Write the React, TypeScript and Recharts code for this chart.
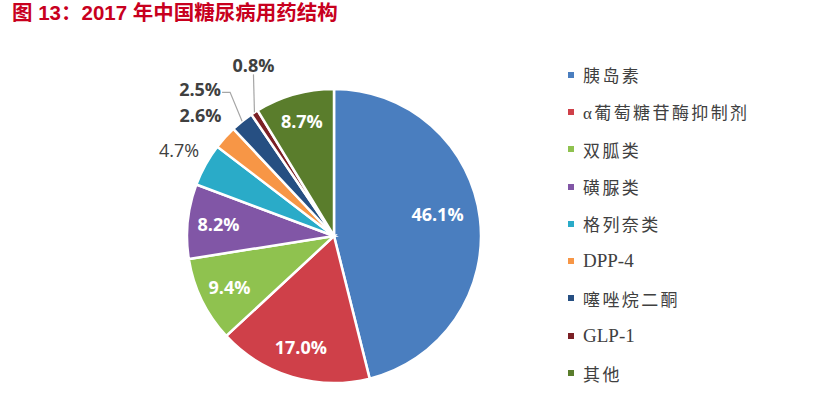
import React from "react";
import { PieChart, Pie, Legend } from "recharts";

// 2017 diabetes drug market structure
const NAMES = [
  "胰岛素",
  "α葡萄糖苷酶抑制剂",
  "双胍类",
  "磺脲类",
  "格列奈类",
  "DPP-4",
  "噻唑烷二酮",
  "GLP-1",
  "其他",
];
const VALUES = [46.1, 17.0, 9.4, 8.2, 4.7, 2.6, 2.5, 0.8, 8.7];
const COLORS = [
  "#4A7EBF",
  "#CF4049",
  "#8FC24F",
  "#8156A6",
  "#2AABC8",
  "#F79646",
  "#264F82",
  "#7B2025",
  "#5A7D2C",
];
// how each value label is drawn: inside the slice, outside, or on a leader line
const LABEL_MODE = ["in", "in", "in", "in", "out", "out", "lead", "up", "in"];

const TITLE = "图 13：2017 年中国糖尿病用药结构";

const data = NAMES.map((name, i) => ({ name, value: VALUES[i], fill: COLORS[i] }));

const RAD = Math.PI / 180;
const LABEL_FONT = "'Open Sans', 'DejaVu Sans', sans-serif";

function renderLabel(props: any) {
  const { cx, cy, midAngle, outerRadius, index, value } = props;
  const mode = LABEL_MODE[index];
  const text = `${Number(value).toFixed(1)}%`;
  const cos = Math.cos(-midAngle * RAD);
  const sin = Math.sin(-midAngle * RAD);

  if (mode === "in") {
    const r = index === 0 ? outerRadius * 0.72 : index === 8 ? outerRadius * 0.81 : outerRadius * 0.79;
    const a = index === 0 ? -(midAngle + 5) * RAD : -midAngle * RAD;
    const x = cx + r * Math.cos(a);
    const y = cy + r * Math.sin(a);
    return (
      <text
        x={x}
        y={y}
        fill="#fff"
        textAnchor="middle"
        dominantBaseline="central"
        fontFamily={LABEL_FONT}
        fontWeight={700}
        fontSize={18}
      >
        {text}
      </text>
    );
  }

  if (mode === "out") {
    const r = outerRadius + (index === 4 ? 30 : 33);
    return (
      <text
        x={cx + r * cos}
        y={cy + r * sin}
        fill="#404040"
        textAnchor="middle"
        dominantBaseline="central"
        fontFamily={LABEL_FONT}
        fontWeight={index === 4 ? 400 : 700}
        fontSize={18}
      >
        {text}
      </text>
    );
  }

  // leader line labels
  const ex = cx + outerRadius * cos;
  const ey = cy + outerRadius * sin;
  if (mode === "lead") {
    const bx = ex - 12;
    const by = ey - 29;
    return (
      <g>
        <polyline
          points={`${ex},${ey} ${bx},${by} ${bx - 8},${by}`}
          fill="none"
          stroke="#A6A6A6"
          strokeWidth={1.2}
        />
        <text
          x={bx - 9}
          y={by - 3}
          fill="#404040"
          textAnchor="end"
          dominantBaseline="central"
          fontFamily={LABEL_FONT}
          fontWeight={700}
          fontSize={18}
        >
          {text}
        </text>
      </g>
    );
  }
  const ty = ey - 38;
  return (
    <g>
      <polyline
        points={`${ex},${ey} ${ex - 1},${ty}`}
        fill="none"
        stroke="#A6A6A6"
        strokeWidth={1.2}
      />
      <text
        x={ex - 1}
        y={ty - 9}
        fill="#404040"
        textAnchor="middle"
        dominantBaseline="central"
        fontFamily={LABEL_FONT}
        fontWeight={700}
        fontSize={18}
      >
        {text}
      </text>
    </g>
  );
}

function renderLegend(props: any) {
  const payload = [...(props.payload || [])].sort(
    (a: any, b: any) => NAMES.indexOf(a.value) - NAMES.indexOf(b.value)
  );
  return (
    <ul style={{ listStyle: "none", margin: 0, padding: 0 }}>
      {payload.map((entry: any, i: number) => {
        const latin = /^[A-Z]/.test(entry.value);
        return (
          <li
            key={`leg-${i}`}
            style={{
              height: 37.3,
              display: "flex",
              alignItems: "center",
              fontFamily: "'Liberation Serif', 'Noto Sans CJK SC', serif",
              fontSize: latin ? 19 : 17,
              letterSpacing: latin ? 0 : 2.4,
              color: "#404040",
              whiteSpace: "nowrap",
            }}
          >
            <span
              style={{
                display: "inline-block",
                width: 6,
                height: 6,
                background: entry.color || COLORS[i],
                marginRight: 9,
              }}
            />
            {entry.value}
          </li>
        );
      })}
    </ul>
  );
}

export default function App() {
  return (
    <div
      style={{
        position: "absolute",
        left: 0,
        top: 0,
        width: 832,
        height: 396,
        background: "#fff",
      }}
    >
      <div
        style={{
          position: "absolute",
          left: 12,
          top: 3,
          fontFamily: "'Liberation Sans', 'Noto Sans CJK SC', sans-serif",
          fontWeight: 700,
          fontSize: 20.5,
          lineHeight: "20px",
          color: "#C8001E",
          whiteSpace: "pre",
        }}
      >
        {TITLE}
      </div>
      <PieChart width={832} height={396} margin={{ top: 0, right: 0, bottom: 0, left: 0 }}>
        <Pie
          data={data}
          dataKey="value"
          nameKey="name"
          cx={334}
          cy={236}
          outerRadius={147}
          startAngle={90}
          endAngle={-270}
          stroke="#fff"
          strokeWidth={2.5}
          label={renderLabel}
          labelLine={false}
          isAnimationActive={false}
        />
        <Legend
          layout="vertical"
          align="right"
          verticalAlign="top"
          itemSorter={null}
          content={renderLegend}
          wrapperStyle={{ position: "absolute", left: 568, top: 56, width: 250 }}
        />
      </PieChart>
    </div>
  );
}
